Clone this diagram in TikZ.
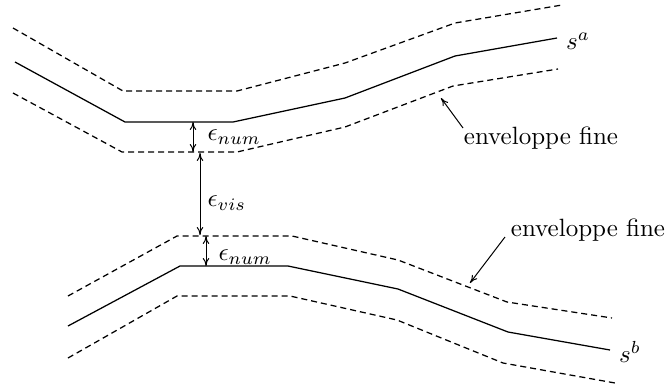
\documentclass[tikz,border=0pt]{standalone}
\usetikzlibrary{arrows.meta}
\begin{document}
\begin{tikzpicture}[x=0.4pt,y=-0.4pt,
  curve/.style={line width=0.5pt},
  env/.style={line width=0.5pt, dash pattern=on 2.4pt off 1.6pt},
  dim/.style={line width=0.4pt,{To[length=3.2pt,width=2.6pt]}-{To[length=3.2pt,width=2.6pt]}},
  ptr/.style={line width=0.4pt,-{To[length=3.2pt,width=2.6pt]}},
  lbl/.style={inner sep=0pt}]
\useasboundingbox (0,0) rectangle (667,388);
% top strand s^a
\draw[curve] (15,62) -- (125,122) -- (233,122) -- (345,98) -- (455,56) -- (557,38);
\draw[env] (13,28) -- (123,91) -- (237,91) -- (345,63) -- (455,23) -- (562,5);
\draw[env] (13,93) -- (122,152) -- (237,152) -- (345,127) -- (453,86) -- (558,69);
% bottom strand s^b
\draw[curve] (68,326) -- (180,266) -- (288,266) -- (398,289) -- (508,332) -- (610,350);
\draw[env] (68,296) -- (177,236) -- (292,236) -- (398,260) -- (507,302) -- (612,318);
\draw[env] (68,358) -- (177,296) -- (290,296) -- (397,320) -- (503,363) -- (615,383);
% labels
\node[lbl] (sa) at (578,41) {$s^a$};
\node[lbl] (sb) at (630,352) {$s^b$};
\node[lbl,anchor=west] (num1) at (207,137) {$\epsilon_{num}$};
\node[lbl,anchor=west] (vis) at (207,203) {$\epsilon_{vis}$};
\node[lbl,anchor=west] (num2) at (218,257) {$\epsilon_{num}$};
\node[lbl] (ef1) at (541,138) {enveloppe fine};
\node[lbl] (ef2) at (588,230) {enveloppe fine};
% dimension arrows
\coordinate (n1a) at (193,122); \coordinate (n1b) at (193,152);
\coordinate (va) at (200,153); \coordinate (vb) at (200,235);
\coordinate (n2a) at (206,236); \coordinate (n2b) at (206,266);
\draw[dim] (n1a) -- (n1b);
\draw[dim] (va) -- (vb);
\draw[dim] (n2a) -- (n2b);
% pointers
\coordinate (t1) at (441,98); \coordinate (s1) at (463,128);
\coordinate (t2) at (470,283); \coordinate (s2) at (505,237);
\draw[ptr] (s1) -- (t1);
\draw[ptr] (s2) -- (t2);
\end{tikzpicture}
\end{document}
